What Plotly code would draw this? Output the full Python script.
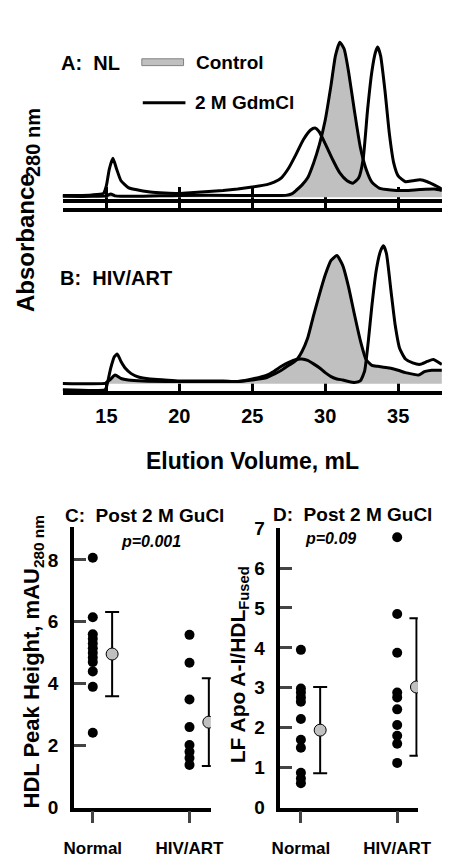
import plotly.graph_objects as go

W, H = 465, 863
def px(x):
    return x / W
def py(y):
    return 1 - y / H

FONT = "Liberation Sans, Arial, Helvetica, sans-serif"

# ---------------- Panel A: NL ----------------
a_vol_gdm = [12.0, 13.0, 14.0, 14.8, 15.0, 15.2, 15.45, 15.7, 16.0, 16.5, 17.0, 18.0, 19.0, 20.0,
             21.0, 22.0, 23.0, 24.0, 25.0, 26.0, 26.5, 27.0, 27.5, 28.0, 28.5, 29.0, 29.3, 29.6,
             30.0, 30.5, 31.0, 31.5, 31.9, 32.3, 32.6, 32.9, 33.2, 33.45, 33.6, 33.8, 34.1, 34.4,
             34.7, 35.0, 35.5, 36.0, 36.5, 37.0, 37.5, 38.0]
a_gdm = [0.2, 0.2, 0.25, 0.4, 1.2, 2.9, 4.0, 2.9, 1.7, 1.0, 0.8, 0.55, 0.45, 0.4,
         0.5, 0.6, 0.7, 0.85, 1.05, 1.3, 1.55, 2.0, 3.0, 4.4, 5.9, 6.9, 7.1, 6.7,
         5.5, 3.9, 2.5, 1.7, 1.45, 2.0, 3.9, 8.9, 12.9, 14.9, 15.4, 14.5, 10.9, 6.5,
         3.5, 2.2, 1.6, 1.7, 1.8, 1.6, 1.25, 0.85]
a_vol_ctrl = [12.0, 14.0, 15.0, 15.3, 15.6, 17.0, 20.0, 24.0, 27.3, 27.7, 28.0, 28.4, 28.8, 29.2,
              29.6, 30.0, 30.4, 30.7, 31.0, 31.3, 31.6, 32.0, 32.4, 32.8, 33.2, 33.7, 34.5, 35.5,
              36.5, 37.5, 38.0]
a_ctrl = [0.1, 0.1, 0.15, 0.35, 0.15, 0.1, 0.2, 0.2, 0.2, 0.35, 0.7, 1.25, 2.0, 3.5,
          5.4, 7.9, 11.5, 14.5, 15.9, 15.2, 12.9, 8.9, 5.2, 2.9, 1.55, 0.95, 0.75, 0.7,
          0.8, 0.85, 0.7]

# ---------------- Panel B: HIV/ART ----------------
b_vol_gdm = [12.0, 14.9, 15.0, 15.3, 15.55, 15.75, 16.0, 16.3, 16.7, 17.2, 18.0, 19.0, 20.0, 23.0,
             24.0, 25.0, 26.0, 26.5, 27.0, 27.5, 28.0, 28.4, 28.8, 29.2, 29.6, 30.0, 30.4, 30.8,
             31.2, 31.6, 32.0, 32.4, 32.7, 32.95, 33.2, 33.5, 33.8, 34.0, 34.2, 34.5, 34.8, 35.1,
             35.5, 36.0, 36.5, 37.0, 37.4, 38.0]
b_gdm = [-0.62, -0.62, -0.37, 1.63, 2.78, 3.03, 2.28, 1.58, 1.03, 0.68, 0.48, 0.38, 0.28, 0.28,
         0.23, 0.48, 0.88, 1.28, 1.78, 2.18, 2.48, 2.53, 2.38, 2.03, 1.63, 1.13, 0.73, 0.48,
         0.38, 0.23, 0.13, 0.28, 1.28, 4.28, 7.98, 11.63, 13.63, 14.13, 13.33, 9.63, 5.98, 3.63,
         2.53, 2.13, 1.98, 2.28, 2.48, 1.98]
b_vol_ctrl = [12.0, 14.9, 15.0, 15.3, 15.6, 16.0, 16.5, 17.5, 20.0, 23.0, 24.0, 25.0, 26.0, 26.5,
              27.0, 27.5, 28.0, 28.4, 28.8, 29.2, 29.6, 30.0, 30.4, 30.8, 31.2, 31.6, 32.0, 32.4,
              32.8, 33.2, 33.6, 34.0, 34.5, 35.0, 35.5, 36.0, 36.4, 36.8, 37.3, 38.0]
b_ctrl = [0.03, 0.03, 0.13, 0.48, 0.88, 0.53, 0.38, 0.28, 0.23, 0.23, 0.23, 0.38, 0.63, 0.98,
          1.38, 1.88, 2.38, 3.28, 4.68, 6.98, 9.13, 11.13, 12.63, 13.13, 12.13, 9.93, 7.13, 4.48,
          2.48, 1.88, 1.78, 1.68, 1.58, 1.38, 1.13, 0.98, 0.88, 1.23, 1.38, 1.38]

vol_ticks = [15, 20, 25, 30, 35]

# ---------------- Panels C and D ----------------
groups = ["Normal", "HIV/ART"]
c_normal = [8.07, 6.15, 5.6, 5.45, 5.3, 5.15, 5.0, 4.85, 4.7, 4.4, 3.9, 2.42]
c_hiv = [5.58, 4.68, 3.49, 2.6, 2.02, 1.8, 1.6, 1.38]
c_mean = [4.96, 2.76]
c_sd = [1.36, 1.42]

d_normal = [3.95, 2.98, 2.88, 2.76, 2.65, 2.22, 1.7, 1.5, 0.87, 0.73, 0.61]
d_hiv = [6.77, 4.85, 3.88, 2.88, 2.76, 2.46, 2.07, 1.8, 1.6, 1.12]
d_mean = [1.94, 3.02]
d_sd = [1.08, 1.72]

GRAY = "#c0c0c0"
fig = go.Figure()

def chrom(xv, yv, xa, ya, filled):
    fig.add_trace(go.Scatter(
        x=xv, y=yv, xaxis=xa, yaxis=ya, mode="lines",
        line=dict(color="black", width=3, shape="spline", smoothing=0.5),
        fill="tozeroy" if filled else None,
        fillcolor=GRAY if filled else None,
        showlegend=False, hoverinfo="skip"))

chrom(a_vol_ctrl, a_ctrl, "x", "y", True)
chrom(a_vol_gdm, a_gdm, "x", "y", False)
chrom(b_vol_ctrl, b_ctrl, "x2", "y2", True)
chrom(b_vol_gdm, b_gdm, "x2", "y2", False)
# empty trace for the separator axis
fig.add_trace(go.Scatter(x=[], y=[], xaxis="x5", yaxis="y5", showlegend=False))

def dots(vals_by_group, mean, sd, xa, ya):
    for gi, vals in enumerate(vals_by_group):
        fig.add_trace(go.Scatter(
            x=[gi + 1] * len(vals), y=vals, xaxis=xa, yaxis=ya, mode="markers",
            marker=dict(color="black", size=10, line=dict(width=0)),
            showlegend=False, hoverinfo="skip"))
    fig.add_trace(go.Scatter(
        x=[gi + 1.2 for gi in range(len(groups))], y=mean, xaxis=xa, yaxis=ya, mode="markers",
        marker=dict(color=GRAY, size=12, line=dict(color="black", width=1)),
        error_y=dict(type="data", array=sd, visible=True, color="black", thickness=2, width=7),
        showlegend=False, hoverinfo="skip"))

dots([c_normal, c_hiv], c_mean, c_sd, "x3", "y3")
dots([d_normal, d_hiv], d_mean, d_sd, "x4", "y4")

LW = 3.5
xdom = [px(55.5), px(455.4)]
base_x = dict(range=[12, 38], domain=xdom, showline=True, linecolor="black", linewidth=LW,
              tickvals=vol_ticks, ticks="inside", tickwidth=3, tickcolor="black",
              showgrid=False, zeroline=False, layer="below traces", fixedrange=True)

fig.update_layout(
    width=W, height=H, margin=dict(l=0, r=0, t=0, b=0),
    paper_bgcolor="white", plot_bgcolor="rgba(0,0,0,0)", showlegend=False,
    font=dict(family=FONT, color="black"),
    xaxis=dict(base_x, anchor="y", ticklen=12, showticklabels=False),
    yaxis=dict(domain=[py(193.7), py(19.7)], range=[-0.17, 17.23], visible=False, anchor="x"),
    xaxis5=dict(base_x, anchor="y5", ticklen=9, showticklabels=False),
    yaxis5=dict(domain=[py(203), py(197)], range=[0, 1], visible=False, anchor="x5"),
    xaxis2=dict(base_x, anchor="y2", ticklen=8, showticklabels=True,
                tickfont=dict(size=20, weight="bold"), ticklabelstandoff=4),
    yaxis2=dict(domain=[py(390.7), py(216.7)], range=[-0.77, 16.63], visible=False, anchor="x2"),
    xaxis3=dict(domain=[px(67.3), px(211.7)], range=[0.804, 2.22], anchor="y3", type="linear",
                showline=True, linecolor="black", linewidth=LW, ticks="outside", ticklen=12,
                tickwidth=3, tickvals=[1, 2], ticktext=groups, showgrid=False, zeroline=False,
                tickfont=dict(size=17, weight="bold"), ticklabelstandoff=10),
    yaxis3=dict(domain=[py(817.5), py(530)], range=[0, 9.06], anchor="x3",
                showline=True, linecolor="black", linewidth=LW, ticks="inside", ticklen=12,
                tickwidth=3, tickvals=[0, 2, 4, 6, 8], showgrid=False, zeroline=False,
                tickfont=dict(size=19, weight="bold"), ticklabelstandoff=8),
    xaxis4=dict(domain=[px(285), px(430)], range=[0.786, 2.214], anchor="y4", type="linear",
                showline=True, linecolor="black", linewidth=LW, ticks="outside", ticklen=12,
                tickwidth=3, tickvals=[1, 2], ticktext=groups, showgrid=False, zeroline=False,
                tickfont=dict(size=17, weight="bold"), ticklabelstandoff=10),
    yaxis4=dict(domain=[py(817.5), py(531)], range=[0, 7], anchor="x4",
                showline=True, linecolor="black", linewidth=LW, ticks="inside", ticklen=12,
                tickwidth=3, tickvals=[0, 1, 2, 3, 4, 5, 6, 7], showgrid=False, zeroline=False,
                tickfont=dict(size=19, weight="bold"), ticklabelstandoff=8),
)

NB = "\u00a0"
def ann(text, x, y, size, xanchor="left", angle=0, italic=False, yanchor="middle"):
    fig.add_annotation(text=text, x=px(x), y=py(y), xref="paper", yref="paper",
                       xanchor=xanchor, yanchor=yanchor, showarrow=False, textangle=angle,
                       font=dict(size=size, family=FONT, weight="bold",
                                 style="italic" if italic else "normal"))

ann("A:" + NB + NB + "NL", 52, 54, 20)
ann("B:" + NB + NB + "HIV/ART", 51, 275, 20)
ann("Control", 194, 54, 19)
ann("2 M GdmCl", 193, 95, 19)
ann("Elution Volume, mL", 256, 462, 23, xanchor="center")
ann("Absorbance", 17, 312, 24, xanchor="center", angle=-90, yanchor="bottom")
ann("280 nm", 25, 173, 20, xanchor="center", angle=-90, yanchor="bottom")
ann("C:" + NB + NB + "Post 2 M GuCl", 142, 518, 19, xanchor="center")
ann("D:" + NB + NB + "Post 2 M GuCl", 361, 517, 19, xanchor="center")
ann("p=0.001", 149, 545, 16, xanchor="center", italic=True)
ann("p=0.09", 338, 542, 16, xanchor="center", italic=True)
ann("HDL Peak Height, mAU<sub>280 nm</sub>", 24, 668, 22, xanchor="center", angle=-90)
ann("LF Apo A-I/HDL<sub>Fused</sub>", 241, 671, 21, xanchor="center", angle=-90)

# legend swatches
fig.add_shape(type="rect", xref="paper", yref="paper", x0=px(139), x1=px(183), y0=py(57), y1=py(50),
              fillcolor=GRAY, line=dict(color="#808080", width=1))
fig.add_shape(type="line", xref="paper", yref="paper", x0=px(140), x1=px(185), y0=py(95), y1=py(95),
              line=dict(color="black", width=3))

fig.write_html("out.html", config={"displayModeBar": False},
               post_script="document.body.style.margin='0';")
